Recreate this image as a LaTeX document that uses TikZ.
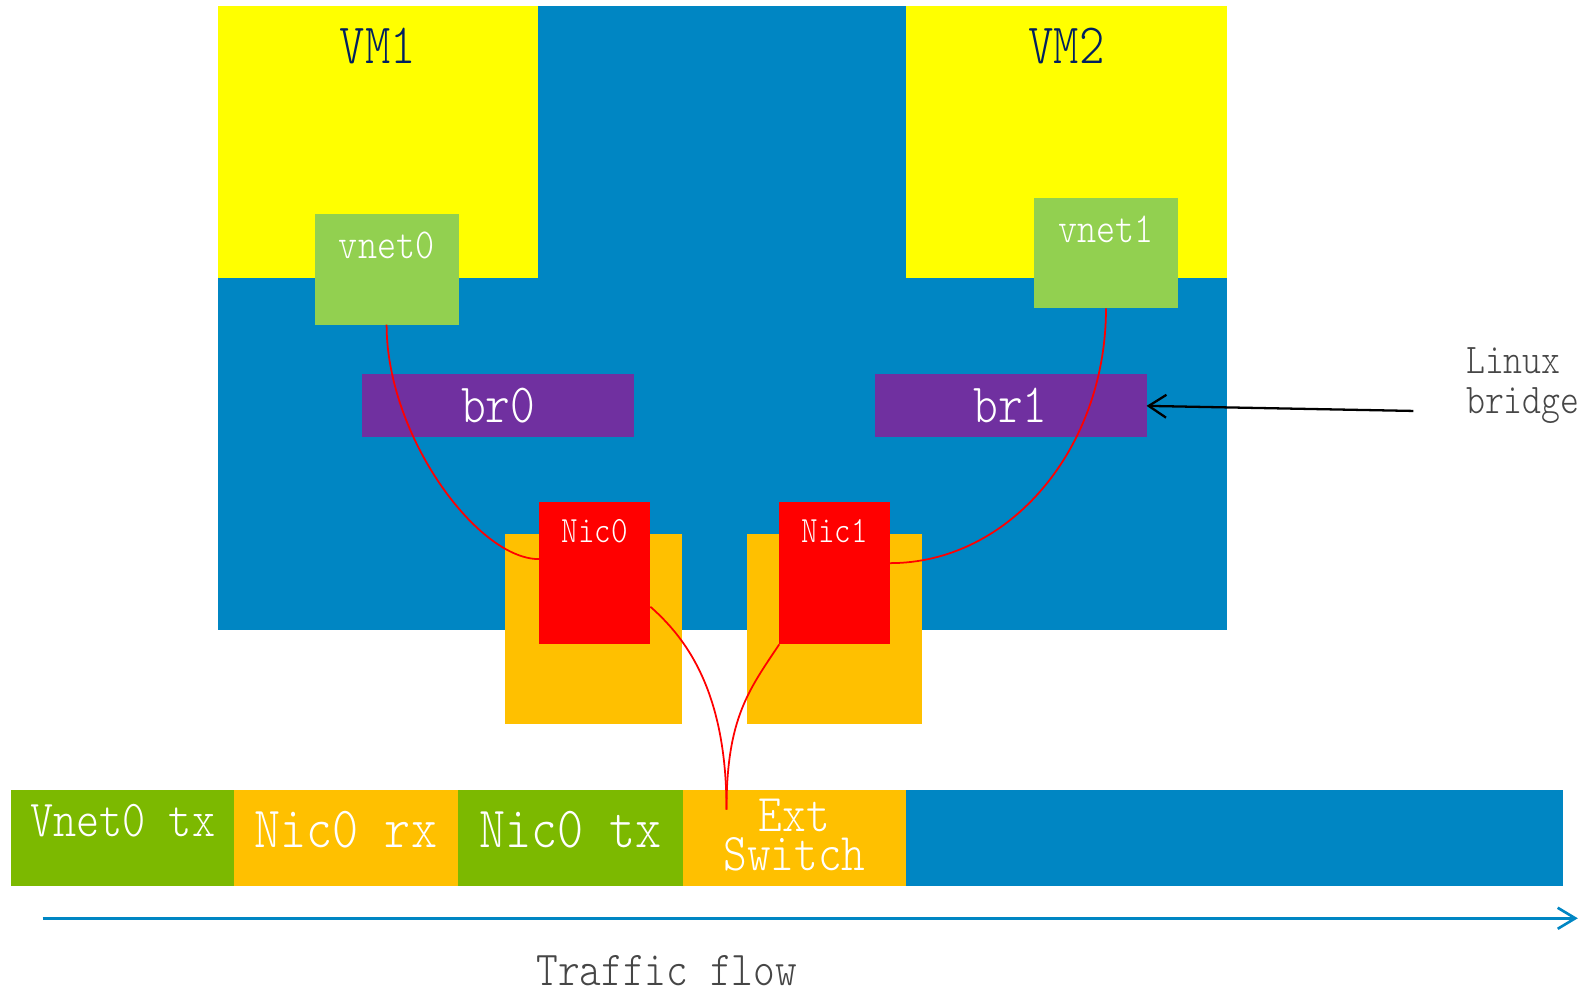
\documentclass[tikz,border=0pt]{standalone}
\usepackage{fontspec}
\newfontfamily\simfont{lmmonolt10-regular.otf}[FakeStretch=0.85]
\usetikzlibrary{positioning,arrows.meta}

\definecolor{hostblue}{RGB}{0,134,195}
\definecolor{vmyellow}{RGB}{255,255,0}
\definecolor{vnetgreen}{RGB}{146,208,80}
\definecolor{brpurple}{RGB}{112,48,160}
\definecolor{nicred}{RGB}{255,0,0}
\definecolor{portorange}{RGB}{255,192,0}
\definecolor{txgreen}{RGB}{124,185,0}
\definecolor{vmnavy}{RGB}{0,32,96}
\definecolor{notegray}{RGB}{70,70,70}

\newcommand{\pxu}{0.203mm}
\newcommand{\sizedfont}[2]{\simfont\fontsize{#1}{#2}\selectfont}

\begin{document}
\begin{tikzpicture}[
    x=\pxu, y=-\pxu,
    every node/.style={inner sep=0pt, outer sep=0pt},
    blk/.style 2 args={anchor=north west, minimum width=#1*\pxu, minimum height=#2*\pxu},
    lbl/.style={text=white, font=\sizedfont{#1}{#1}},
    wire/.style={draw=nicred, line width=1pt},
    pointer/.style={-{Straight Barb[length=10pt, width=13pt]}, line width=1.3pt},
    flow/.style={draw=hostblue, -{Straight Barb[length=10pt, width=12pt]}, line width=1.5pt}
]
    \useasboundingbox (0,0) rectangle (1568,979);

    % Host and guests
    \node[blk={994}{615}, fill=hostblue] (host) at (215,6) {};
    \node[blk={315}{268}, fill=vmyellow] (vm1) at (215,6) {};
    \node[blk={316}{268}, fill=vmyellow] (vm2) at (893,6) {};
    \node[font=\sizedfont{32.4}{32.4}, text=vmnavy] (vm1lbl) at ([yshift=-39*\pxu]vm1.north) {VM1};
    \node[font=\sizedfont{32.4}{32.4}, text=vmnavy] (vm2lbl) at ([yshift=-39*\pxu]vm2.north) {VM2};

    % Tap devices
    \node[blk={142}{109}, fill=vnetgreen] (vnet0) at (310,211) {};
    \node[blk={142}{109}, fill=vnetgreen] (vnet1) at (1019,195) {};
    \node[lbl=24.3] (vnet0lbl) at ([yshift=-31*\pxu]vnet0.north) {vnet0};
    \node[lbl=24.3] (vnet1lbl) at ([yshift=-31*\pxu]vnet1.north) {vnet1};

    % Bridges
    \node[blk={268}{62}, fill=brpurple, lbl=31.5] (br0) at (357,369) {br0};
    \node[blk={268}{62}, fill=brpurple, lbl=31.5] (br1) at (862,369) {br1};

    % Physical NICs
    \node[blk={174}{188}, fill=portorange] (port0) at (498,526) {};
    \node[blk={173}{188}, fill=portorange] (port1) at (736,526) {};
    \node[blk={110}{140}, fill=nicred] (nic0) at (531,495) {};
    \node[blk={109}{140}, fill=nicred] (nic1) at (768,495) {};
    \node[lbl=21.1] (nic0lbl) at ([yshift=-28*\pxu]nic0.north) {Nic0};
    \node[lbl=21.1] (nic1lbl) at ([yshift=-28*\pxu]nic1.north) {Nic1};

    % Timeline bar
    \node[blk={220}{94}, fill=txgreen] (vtx) at (11,779) {};
    \node[blk={220}{94}, fill=portorange, right=0pt of vtx] (nrx) {};
    \node[blk={222}{94}, fill=txgreen, right=0pt of nrx] (ntx) {};
    \node[blk={220}{94}, fill=portorange, right=0pt of ntx] (ext) {};
    \node[blk={647}{94}, fill=hostblue, right=0pt of ext] (rest) {};
    \node[lbl=29.5] (vtxlbl) at ([yshift=17*\pxu]vtx.center) {Vnet0 tx};
    \node[lbl=33.2] (nrxlbl) at ([yshift=8*\pxu]nrx.center) {Nic0 rx};
    \node[lbl=33.2] (ntxlbl) at ([yshift=8*\pxu]ntx.center) {Nic0 tx};
    \node[text=white, align=center, font=\sizedfont{30.2}{22}] (extlbl) at ([yshift=3*\pxu]ext.center) {Ext\\Switch};

    % Packet path
    \coordinate (tap) at (716,798);
    \draw[wire] (vnet0.south) .. controls +(0,110) and +(-60,0) .. ([yshift=14*\pxu]nic0.west);
    \draw[wire] (vnet1.south) .. controls +(0,138) and +(118,0) .. ([yshift=10*\pxu]nic1.east);
    \draw[wire] ([yshift=-33*\pxu]nic0.east) .. controls +(40,35) and +(0,-110) .. (tap);
    \draw[wire] (nic1.south west) .. controls +(-30,45) and +(0,-90) .. (tap);

    % Notes
    \node[anchor=west, align=left, text=notegray, font=\sizedfont{24.1}{23}] (lb) at (1445,380) {Linux\\bridge};
    \coordinate (lbtail) at (1393,405);
    \draw[pointer] (lbtail) -- (br1.east);

    \coordinate (flowstart) at (42,905);
    \coordinate (flowend) at (1555,905);
    \draw[flow] (flowstart) -- (flowend);
    \node[text=notegray, font=\sizedfont{27.7}{27.7}] (flowlbl) at (657,957) {Traffic flow};

\end{tikzpicture}
\end{document}
